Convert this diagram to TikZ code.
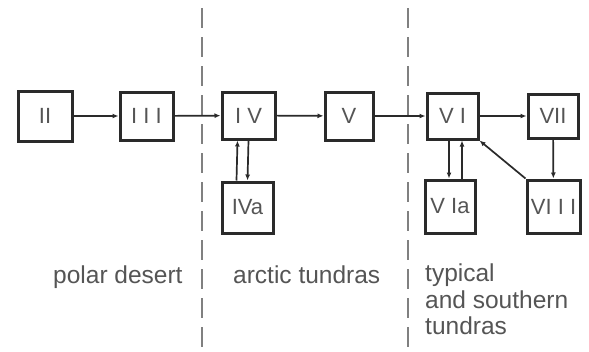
\documentclass[tikz,border=0pt]{standalone}
\usepackage{fontspec}
\setmainfont{Liberation Sans}
\usetikzlibrary{arrows.meta}
\definecolor{ink}{HTML}{2A2A2A}
\definecolor{txt}{HTML}{555555}
\begin{document}
\begin{tikzpicture}[x=1pt,y=-1pt,
  box/.style={draw=ink,line width=3pt,minimum width=#1,inner sep=0pt,text=txt,font=\fontsize{22}{24}\selectfont},
  arr/.style={draw=ink,line width=1.7pt,-{Latex[length=6pt,width=5pt]}},
  zone/.style={text=txt,font=\fontsize{24.5}{27}\selectfont,inner sep=0pt},
  divider/.style={draw=black!50,line width=1.5pt,dash pattern=on 20pt off 9pt}]
\useasboundingbox (0,0) rectangle (589,351);
\fill[white] (0,0) rectangle (589,351);
% dividers
\coordinate (d1t) at (202,8); \coordinate (d1b) at (202,351);
\coordinate (d2t) at (408,8); \coordinate (d2b) at (408,351);
\draw[divider] (d1t) -- (d1b);
\draw[divider] (d2t) -- (d2b);
% boxes
\node[box=54pt,minimum height=50pt] (II) at (45,116) {II};
\node[box=53pt,minimum height=48pt] (III) at (146.5,116) {I I I};
\node[box=53pt,minimum height=47pt] (IV) at (248.5,115.5) {I V};
\node[box=51pt,minimum height=51pt] (IVa) at (247.5,207.5) {IVa};
\node[box=48pt,minimum height=48pt] (V) at (349,116) {V};
\node[box=51pt,minimum height=46pt] (VI) at (452.5,116) {V I};
\node[box=50pt,minimum height=44pt] (VII) at (553,116) {VII};
\node[box=50pt,minimum height=53pt] (VIa) at (450,206.5) {V Ia};
\node[box=53pt,minimum height=53pt] (VIII) at (553.5,206.5) {VI I I};
% arrows
\draw[arr] (II) -- (III);
\draw[arr] (III) -- (IV);
\draw[arr] (IV) -- (V);
\draw[arr] (V) -- (VI);
\draw[arr] (VI) -- (VII);
\draw[arr] ([xshift=-11pt]IVa.north) -- ([xshift=-11pt]IV.south);
\draw[arr] ([xshift=0pt]IV.south) -- ([xshift=0pt]IVa.north);
\draw[arr] ([xshift=-3.5pt]VI.south) -- ([xshift=-1pt]VIa.north);
\draw[arr] ([xshift=12pt]VIa.north) -- ([xshift=9.5pt]VI.south);
\draw[arr] (VII) -- (VIII);
\draw[arr] (VIII.north west) -- (VI.south east);
% zone labels
\node[zone,anchor=base west] (pd) at (53,283) {polar desert};
\node[zone,anchor=base west] (at) at (233,283) {arctic tundras};
\node[zone,anchor=north west,align=left,font=\fontsize{24.5}{26.5}\selectfont] (ts) at (425,264) {typical\\and southern\\tundras};
\end{tikzpicture}
\end{document}
